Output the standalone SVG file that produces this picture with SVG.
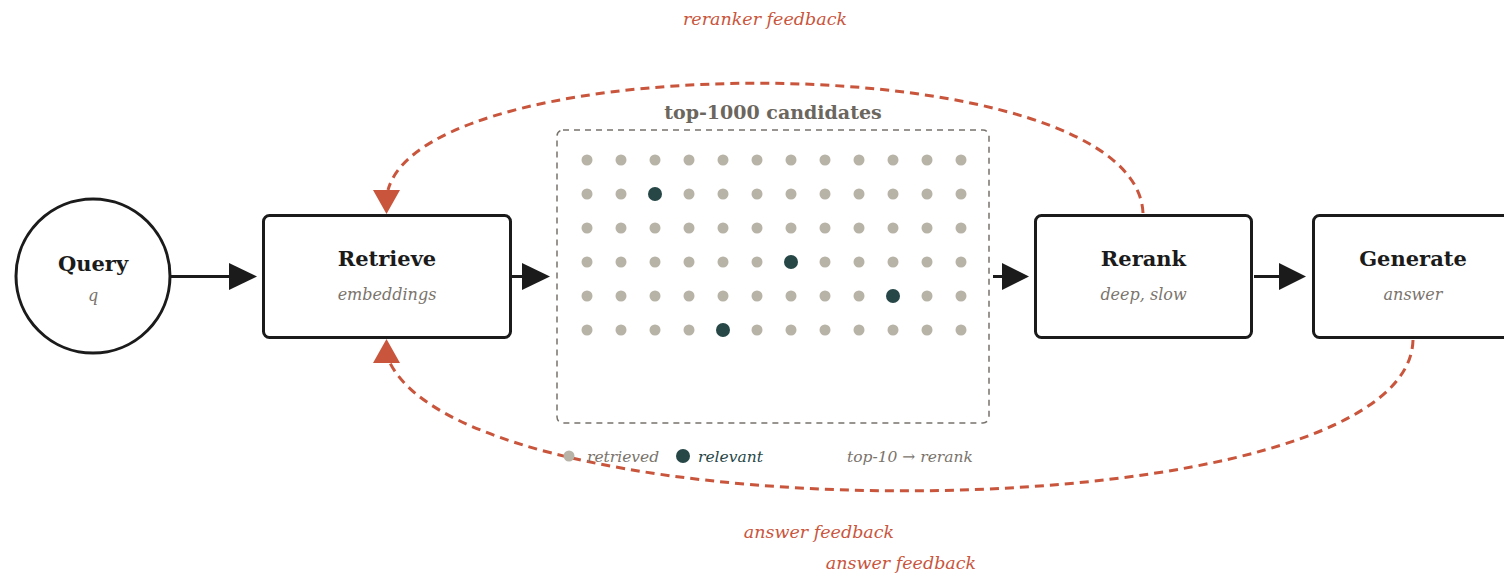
<svg xmlns="http://www.w3.org/2000/svg" width="1504" height="573" viewBox="0 0 1504 573">
<style>
.node{fill:#fff;stroke:#1b1b1b;stroke-width:3}
.title{font-family:"DejaVu Serif","Liberation Serif",serif;font-weight:bold;font-size:21px;fill:#1b1b1b;text-anchor:middle}
.sub{font-family:"DejaVu Serif","Liberation Serif",serif;font-style:italic;font-size:16px;fill:#7a746c;text-anchor:middle}
.fb{font-family:"DejaVu Serif","Liberation Serif",serif;font-style:italic;font-size:17.5px;fill:#c9553c}
.leg{font-family:"DejaVu Serif","Liberation Serif",serif;font-style:italic;font-size:15.5px}
.flow{stroke:#1b1b1b;stroke-width:3;fill:none}
.head{fill:#1b1b1b}
.fbline{stroke:#c9553c;stroke-width:3;fill:none;stroke-dasharray:9 6}
.fbhead{fill:#c9553c}
.d{fill:#b8b3a7}
.r{fill:#274747}
</style>

<g id="connectors">
  <line class="flow" x1="171" y1="276.5" x2="231" y2="276.5"/>
  <polygon class="head" points="229,263 257,276.5 229,290"/>
  <line class="flow" x1="512" y1="276.5" x2="524" y2="276.5"/>
  <polygon class="head" points="522,263 550,276.5 522,290"/>
  <line class="flow" x1="993" y1="276.5" x2="1004" y2="276.5"/>
  <polygon class="head" points="1002,263 1029,276.5 1002,290"/>
  <line class="flow" x1="1254" y1="276.5" x2="1281" y2="276.5"/>
  <polygon class="head" points="1279,263 1306,276.5 1279,290"/>
  <path class="fbline" d="M1143,213 C1135,44 428,44 388,190"/>
  <polygon class="fbhead" points="373,190 400,190 386.5,214"/>
  <path class="fbline" d="M1413,340 C1408,534 480,540 390,363"/>
  <polygon class="fbhead" points="373,363 400,363 386.5,339"/>
</g>

<g id="query">
  <circle class="node" cx="93" cy="276" r="77"/>
  <text class="title" x="93" y="271">Query</text>
  <text class="sub" x="93" y="301">q</text>
</g>

<g id="retrieve">
  <rect class="node" x="263.5" y="215.5" width="247" height="122" rx="6"/>
  <text class="title" x="387" y="266">Retrieve</text>
  <text class="sub" x="387" y="300">embeddings</text>
</g>

<g id="candidates">
  <text x="773" y="119" style="font-family:'DejaVu Serif','Liberation Serif',serif;font-weight:bold;font-size:19px;fill:#6b665e;text-anchor:middle">top-1000 candidates</text>
  <rect x="557" y="130" width="432" height="293" rx="6" fill="none" stroke="#77726b" stroke-width="1.5" stroke-dasharray="6 5"/>
  <g id="dots">
    <circle class="d" cx="587" cy="160" r="5.5"/><circle class="d" cx="621" cy="160" r="5.5"/><circle class="d" cx="655" cy="160" r="5.5"/><circle class="d" cx="689" cy="160" r="5.5"/><circle class="d" cx="723" cy="160" r="5.5"/><circle class="d" cx="757" cy="160" r="5.5"/><circle class="d" cx="791" cy="160" r="5.5"/><circle class="d" cx="825" cy="160" r="5.5"/><circle class="d" cx="859" cy="160" r="5.5"/><circle class="d" cx="893" cy="160" r="5.5"/><circle class="d" cx="927" cy="160" r="5.5"/><circle class="d" cx="961" cy="160" r="5.5"/>
    <circle class="d" cx="587" cy="194" r="5.5"/><circle class="d" cx="621" cy="194" r="5.5"/><circle class="r" cx="655" cy="194" r="7"/><circle class="d" cx="689" cy="194" r="5.5"/><circle class="d" cx="723" cy="194" r="5.5"/><circle class="d" cx="757" cy="194" r="5.5"/><circle class="d" cx="791" cy="194" r="5.5"/><circle class="d" cx="825" cy="194" r="5.5"/><circle class="d" cx="859" cy="194" r="5.5"/><circle class="d" cx="893" cy="194" r="5.5"/><circle class="d" cx="927" cy="194" r="5.5"/><circle class="d" cx="961" cy="194" r="5.5"/>
    <circle class="d" cx="587" cy="228" r="5.5"/><circle class="d" cx="621" cy="228" r="5.5"/><circle class="d" cx="655" cy="228" r="5.5"/><circle class="d" cx="689" cy="228" r="5.5"/><circle class="d" cx="723" cy="228" r="5.5"/><circle class="d" cx="757" cy="228" r="5.5"/><circle class="d" cx="791" cy="228" r="5.5"/><circle class="d" cx="825" cy="228" r="5.5"/><circle class="d" cx="859" cy="228" r="5.5"/><circle class="d" cx="893" cy="228" r="5.5"/><circle class="d" cx="927" cy="228" r="5.5"/><circle class="d" cx="961" cy="228" r="5.5"/>
    <circle class="d" cx="587" cy="262" r="5.5"/><circle class="d" cx="621" cy="262" r="5.5"/><circle class="d" cx="655" cy="262" r="5.5"/><circle class="d" cx="689" cy="262" r="5.5"/><circle class="d" cx="723" cy="262" r="5.5"/><circle class="d" cx="757" cy="262" r="5.5"/><circle class="r" cx="791" cy="262" r="7"/><circle class="d" cx="825" cy="262" r="5.5"/><circle class="d" cx="859" cy="262" r="5.5"/><circle class="d" cx="893" cy="262" r="5.5"/><circle class="d" cx="927" cy="262" r="5.5"/><circle class="d" cx="961" cy="262" r="5.5"/>
    <circle class="d" cx="587" cy="296" r="5.5"/><circle class="d" cx="621" cy="296" r="5.5"/><circle class="d" cx="655" cy="296" r="5.5"/><circle class="d" cx="689" cy="296" r="5.5"/><circle class="d" cx="723" cy="296" r="5.5"/><circle class="d" cx="757" cy="296" r="5.5"/><circle class="d" cx="791" cy="296" r="5.5"/><circle class="d" cx="825" cy="296" r="5.5"/><circle class="d" cx="859" cy="296" r="5.5"/><circle class="r" cx="893" cy="296" r="7"/><circle class="d" cx="927" cy="296" r="5.5"/><circle class="d" cx="961" cy="296" r="5.5"/>
    <circle class="d" cx="587" cy="330" r="5.5"/><circle class="d" cx="621" cy="330" r="5.5"/><circle class="d" cx="655" cy="330" r="5.5"/><circle class="d" cx="689" cy="330" r="5.5"/><circle class="r" cx="723" cy="330" r="7"/><circle class="d" cx="757" cy="330" r="5.5"/><circle class="d" cx="791" cy="330" r="5.5"/><circle class="d" cx="825" cy="330" r="5.5"/><circle class="d" cx="859" cy="330" r="5.5"/><circle class="d" cx="893" cy="330" r="5.5"/><circle class="d" cx="927" cy="330" r="5.5"/><circle class="d" cx="961" cy="330" r="5.5"/>
  </g>
  <g id="legend">
    <circle class="d" cx="569" cy="456" r="5.5"/>
    <text class="leg" x="587" y="462" fill="#7a746c">retrieved</text>
    <circle class="r" cx="683" cy="456" r="7"/>
    <text class="leg" x="698" y="462" fill="#274747">relevant</text>
    <text class="leg" x="847" y="462" fill="#7a746c">top-10 → rerank</text>
  </g>
</g>

<g id="rerank">
  <rect class="node" x="1035.5" y="215.5" width="216" height="122" rx="6"/>
  <text class="title" x="1143.5" y="266">Rerank</text>
  <text class="sub" x="1143.5" y="300">deep, slow</text>
</g>

<g id="generate">
  <rect class="node" x="1313.5" y="215.5" width="198" height="122" rx="6"/>
  <text class="title" x="1413" y="266">Generate</text>
  <text class="sub" x="1413" y="300">answer</text>
</g>

<g id="labels">
  <text class="fb" x="765" y="25" text-anchor="middle">reranker feedback</text>
  <text class="fb" x="819" y="538" text-anchor="middle">answer feedback</text>
  <text class="fb" x="901" y="569" text-anchor="middle">answer feedback</text>
</g>
</svg>
